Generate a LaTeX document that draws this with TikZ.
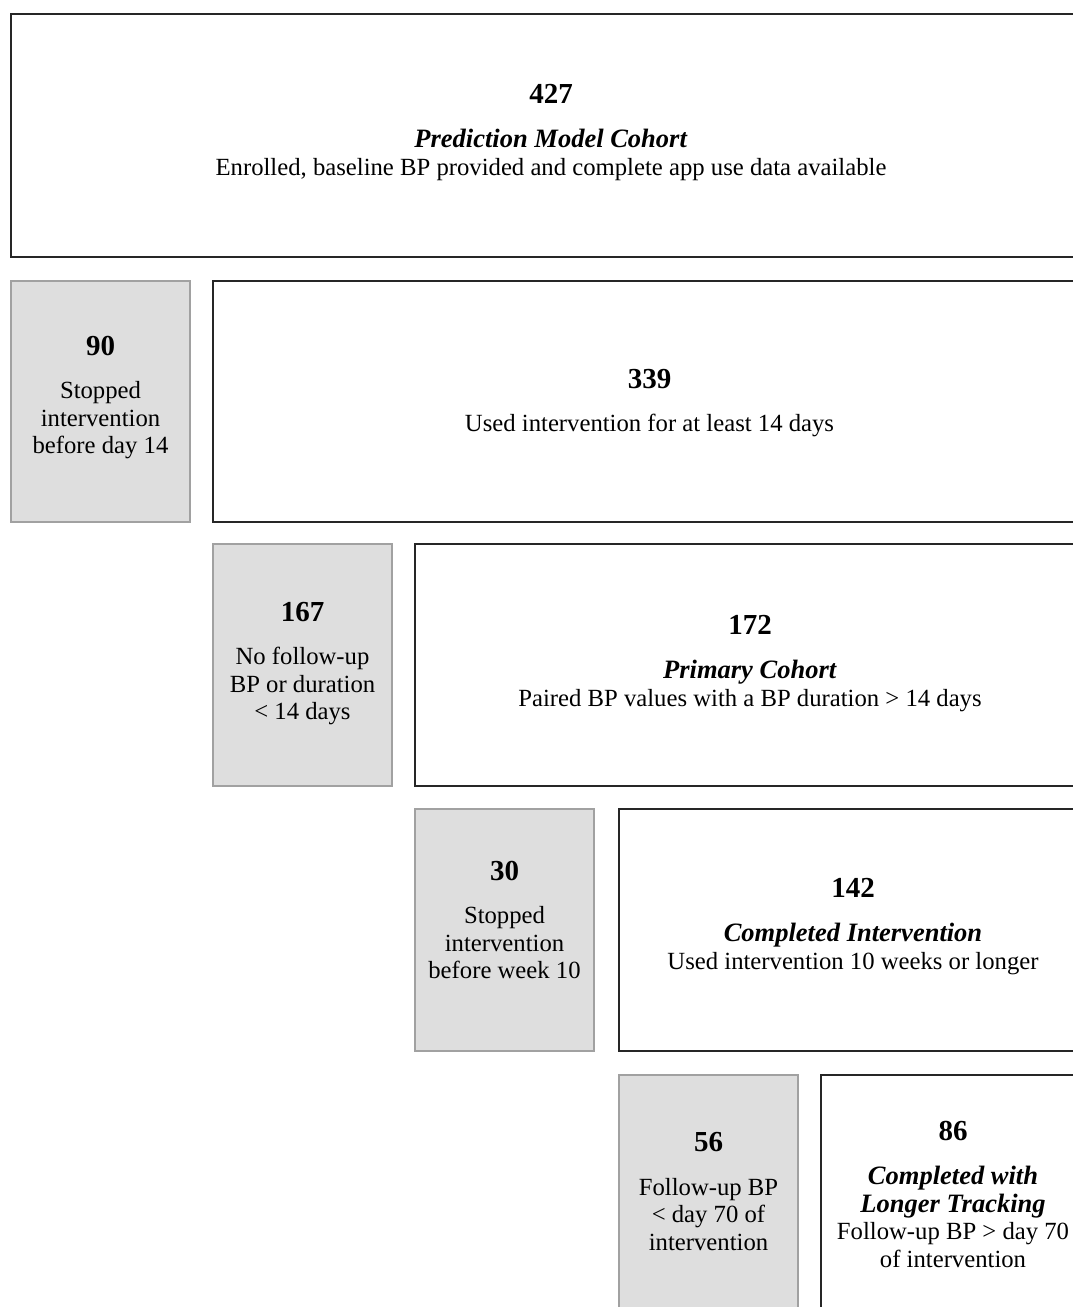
\documentclass[tikz,border=0pt]{standalone}
\usepackage{fontspec}
\usetikzlibrary{calc}
\setmainfont{Liberation Serif}
\newcommand{\bignum}[1]{{\fontsize{29}{30}\selectfont\textbf{#1}}}
\newcommand{\ttl}[1]{{\fontsize{26.5}{28}\selectfont\textbf{\textit{#1}}}}
\begin{document}
\begin{tikzpicture}[x=1pt,y=-1pt,
  box/.style={rectangle, anchor=north west, inner sep=0pt},
  whitebox/.style={box, draw=black!85, line width=2pt, fill=white},
  greybox/.style={box, draw=black!37, line width=2pt, fill=black!13},
  txt/.style={align=center, inner sep=0pt, font=\fontsize{24.7}{27.5}\selectfont}]
\useasboundingbox (0,0) rectangle (1073,1307);
\clip (0,0) rectangle (1073,1307);
% boxes
\node[whitebox, minimum width=1080, minimum height=243] (pm) at (10,13) {};
\node[greybox, minimum width=179, minimum height=241] (g90) at (10,280) {};
\node[whitebox, minimum width=873, minimum height=241] (c339) at (212,280) {};
\node[greybox, minimum width=179, minimum height=242] (g167) at (212,543) {};
\node[whitebox, minimum width=670, minimum height=242] (c172) at (414,543) {};
\node[greybox, minimum width=179, minimum height=242] (g30) at (414,808) {};
\node[whitebox, minimum width=468, minimum height=242] (c142) at (618,808) {};
\node[greybox, minimum width=179, minimum height=242] (g56) at (618,1074) {};
\node[whitebox, minimum width=264, minimum height=242] (c86) at (820,1074) {};
% texts
\node[txt] (tpm) at ($(pm.center)+(0,-3)$)
  {\bignum{427}\\[17pt]\ttl{Prediction Model Cohort}\\Enrolled, baseline BP provided and complete app use data available};
\node[txt] (t90) at ($(g90.center)+(0,-4)$)
  {\bignum{90}\\[16pt]Stopped\\intervention\\before day 14};
\node[txt] (t339) at ($(c339.center)+(0,1.5)$)
  {\bignum{339}\\[16pt]Used intervention for at least 14 days};
\node[txt] (t167) at ($(g167.center)+(0,-1.5)$)
  {\bignum{167}\\[16pt]No follow-up\\BP or duration\\< 14 days};
\node[txt] (t172) at ($(c172.center)+(0,-1.5)$)
  {\bignum{172}\\[17pt]\ttl{Primary Cohort}\\Paired BP values with a BP duration > 14 days};
\node[txt] (t30) at ($(g30.center)+(0,-10)$)
  {\bignum{30}\\[16pt]Stopped\\intervention\\before week 10};
\node[txt] (t142) at ($(c142.center)+(0,-3.5)$)
  {\bignum{142}\\[17pt]\ttl{Completed Intervention}\\Used intervention 10 weeks or longer};
\node[txt] (t56) at ($(g56.center)+(0,-4.5)$)
  {\bignum{56}\\[16pt]Follow-up BP\\< day 70 of\\intervention};
\node[txt] (t86) at ($(c86.center)+(0,-2)$)
  {\bignum{86}\\[17pt]\ttl{Completed with}\\\ttl{Longer Tracking}\\Follow-up BP > day 70\\of intervention};
\end{tikzpicture}
\end{document}
